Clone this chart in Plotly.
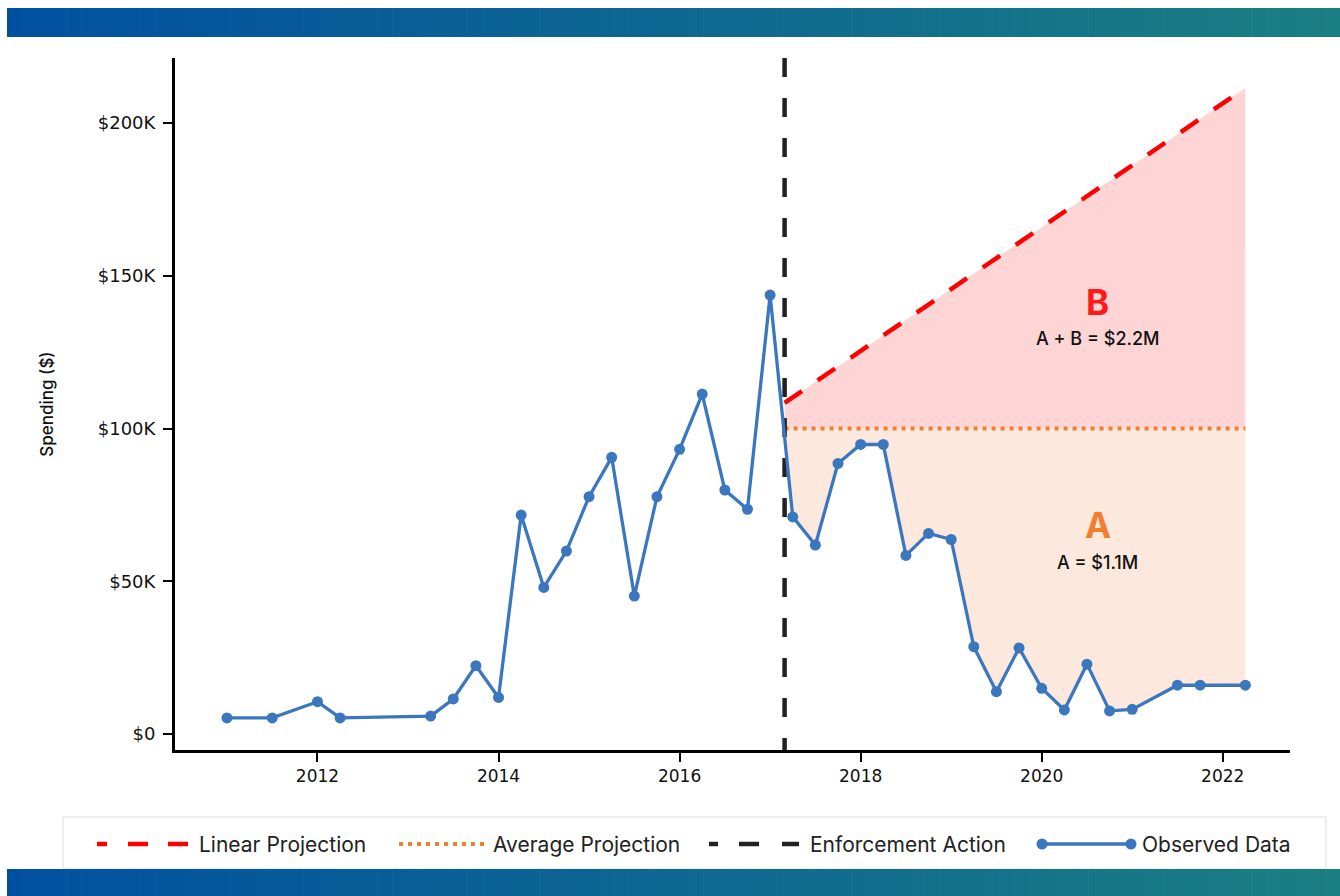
import numpy as np
import plotly.graph_objects as go

# Quarterly observed spending (USD)
obs_x = [2011.0, 2011.5, 2012.0, 2012.25, 2013.25, 2013.5, 2013.75, 2014.0,
         2014.25, 2014.5, 2014.75, 2015.0, 2015.25, 2015.5, 2015.75, 2016.0,
         2016.25, 2016.5, 2016.75, 2017.0, 2017.25, 2017.5, 2017.75, 2018.0,
         2018.25, 2018.5, 2018.75, 2019.0, 2019.25, 2019.5, 2019.75, 2020.0,
         2020.25, 2020.5, 2020.75, 2021.0, 2021.5, 2021.75, 2022.25]
obs_y = [5300, 5300, 10600, 5300, 5900, 11500, 22400, 12000,
         71700, 48000, 59900, 77700, 90600, 45200, 77700, 93200,
         111300, 79900, 73600, 143700, 71100, 61900, 88600, 94800,
         94800, 58500, 65700, 63700, 28600, 13900, 28200, 15000,
         7900, 22900, 7600, 8100, 16000, 16000, 16000]

enforcement_date = 2017.16
projection_end = 2022.25

# Projections after the enforcement action
avg_level = 100000
linear_x = [enforcement_date, projection_end]
linear_y = [108400, 211500]

x_ticks = [2012, 2014, 2016, 2018, 2020, 2022]
x_tick_text = ["2012", "2014", "2016", "2018", "2020", "2022"]
y_ticks = [0, 50000, 100000, 150000, 200000]
y_tick_text = ["$0", "$50K", "$100K", "$150K", "$200K"]

# Area labels
label_x = 2020.62
area_labels = [
    ("B", 141400, "#FF1A1A", 35, "bold"),
    ("A + B = $2.2M", 129600, "#111111", 18, 500),
    ("A", 68400, "#F0802F", 35, "bold"),
    ("A = $1.1M", 56300, "#111111", 18, 500),
]

legend_names = ["Linear Projection", "Average Projection", "Enforcement Action", "Observed Data"]

RED = "#FF0000"
ORANGE = "#F0802F"
BLACK = "#222222"
BLUE = "#3A77BE"
FILL_B = "#FDD5D5"
FILL_A = "#FCE8DC"

W, H = 1340, 896
ML, MR, MT, MB = 175, 50, 58, 146
PW, PH = W - ML - MR, H - MT - MB


def px(x):
    return (x - ML) / PW


def py(y):
    return (H - MB - y) / PH


x_range = [2010.426, 2022.743]
y_range = [-5200, 221300]

fig = go.Figure()

# Region A: between the average projection and the observed data
post_x = [x for x in obs_x if x >= enforcement_date]
post_y = [y for x, y in zip(obs_x, obs_y) if x >= enforcement_date]
start_y = float(np.interp(enforcement_date, obs_x, obs_y))
a_x = [enforcement_date, projection_end] + list(reversed([enforcement_date] + post_x))
a_y = [avg_level, avg_level] + list(reversed([start_y] + post_y))
fig.add_trace(go.Scatter(x=a_x, y=a_y, mode="lines", fill="toself", fillcolor=FILL_A,
                         line=dict(width=0), hoverinfo="skip", showlegend=False))

# Region B: between the linear and the average projection
b_x = linear_x + list(reversed(linear_x))
b_y = linear_y + [avg_level, avg_level]
fig.add_trace(go.Scatter(x=b_x, y=b_y, mode="lines", fill="toself", fillcolor=FILL_B,
                         line=dict(width=0), hoverinfo="skip", showlegend=False))

# Linear projection
fig.add_trace(go.Scatter(x=linear_x, y=linear_y, mode="lines", name=legend_names[0],
                         line=dict(color=RED, width=4.5, dash="21px,19px"), showlegend=False))

# Average projection
fig.add_trace(go.Scatter(x=linear_x, y=[avg_level, avg_level], mode="lines", name=legend_names[1],
                         line=dict(color=ORANGE, width=4, dash="4px,5px"), showlegend=False))

# Enforcement action
fig.add_trace(go.Scatter(x=[enforcement_date, enforcement_date], y=[y_range[1], y_range[0]],
                         mode="lines", name=legend_names[2],
                         line=dict(color=BLACK, width=4.5, dash="19px,21px"), showlegend=False))

# Observed data
fig.add_trace(go.Scatter(x=obs_x, y=obs_y, mode="lines+markers", name=legend_names[3],
                         line=dict(color=BLUE, width=3.3), marker=dict(color=BLUE, size=11),
                         showlegend=False))

for text, yv, color, size, weight in area_labels:
    fig.add_annotation(x=label_x, y=yv, xref="x", yref="y", text=text, showarrow=False,
                       font=dict(family="Inter", size=size, color=color, weight=weight),
                       xanchor="center", yanchor="middle")

shapes = []

# Gradient header and footer bands
c0 = np.array([1, 80, 160])
c1 = np.array([27, 126, 130])
n = 90
x_start = 7
step = (W - x_start) / n
for i in range(n):
    c = c0 + (c1 - c0) * (i + 0.5) / n
    col = "rgb(%d,%d,%d)" % tuple(np.round(c).astype(int))
    for (ya, yb) in [(8, 37), (869, 896)]:
        shapes.append(dict(type="rect", xref="paper", yref="paper",
                           x0=px(x_start + i * step), x1=px(x_start + (i + 1) * step + 0.6),
                           y0=py(yb), y1=py(ya), fillcolor=col, line=dict(width=0),
                           layer="above"))

# Legend box
shapes.append(dict(type="rect", xref="paper", yref="paper", x0=px(63), x1=px(1326),
                   y0=py(869), y1=py(817), line=dict(color="#DDDDDD", width=1),
                   fillcolor="white", layer="below"))

cy = 844
for a, b in [(97, 107), (128, 148), (168, 188)]:
    shapes.append(dict(type="line", xref="paper", yref="paper", x0=px(a), x1=px(b),
                       y0=py(cy), y1=py(cy), line=dict(color=RED, width=4.5)))
shapes.append(dict(type="line", xref="paper", yref="paper", x0=px(399), x1=px(484),
                   y0=py(cy), y1=py(cy), line=dict(color=ORANGE, width=4, dash="4px,5px")))
for a, b in [(709, 718), (739, 759), (782, 799)]:
    shapes.append(dict(type="line", xref="paper", yref="paper", x0=px(a), x1=px(b),
                       y0=py(cy), y1=py(cy), line=dict(color=BLACK, width=4.5)))
shapes.append(dict(type="line", xref="paper", yref="paper", x0=px(1042), x1=px(1131),
                   y0=py(cy), y1=py(cy), line=dict(color=BLUE, width=3.3)))
for cx in (1042, 1131):
    shapes.append(dict(type="circle", xref="paper", yref="paper",
                       x0=px(cx - 5.5), x1=px(cx + 5.5), y0=py(cy + 5.5), y1=py(cy - 5.5),
                       fillcolor=BLUE, line=dict(width=0)))
fig.update_layout(shapes=shapes)

for name, tx in zip(legend_names, [197, 491, 808, 1140]):
    fig.add_annotation(x=px(tx), y=py(cy), xref="paper", yref="paper", text=name,
                       showarrow=False, xanchor="left", yanchor="middle",
                       font=dict(family="Inter", size=21, color="#222222"))

fig.update_layout(
    width=W, height=H, autosize=False,
    margin=dict(l=ML, r=MR, t=MT, b=MB),
    paper_bgcolor="white", plot_bgcolor="white",
    showlegend=False,
    font=dict(family="DejaVu Sans", color="#111111"),
    xaxis=dict(range=x_range, tickvals=x_ticks, ticktext=x_tick_text,
               showgrid=False, zeroline=False, showline=True, linecolor="black", linewidth=3,
               ticks="outside", ticklen=9, tickwidth=2, tickcolor="black",
               tickfont=dict(family="DejaVu Sans", size=17, color="#111111")),
    yaxis=dict(range=y_range, tickvals=y_ticks, ticktext=y_tick_text,
               showgrid=False, zeroline=False, showline=True, linecolor="black", linewidth=3,
               ticks="outside", ticklen=9, tickwidth=2, tickcolor="black",
               ticklabelstandoff=4,
               tickfont=dict(family="DejaVu Sans", size=18, color="#111111")),
)
fig.update_yaxes(title=dict(text="Spending ($)", standoff=40,
                            font=dict(family="Inter", size=17, color="#111111", weight=500)))

fig.write_html("out.html")
